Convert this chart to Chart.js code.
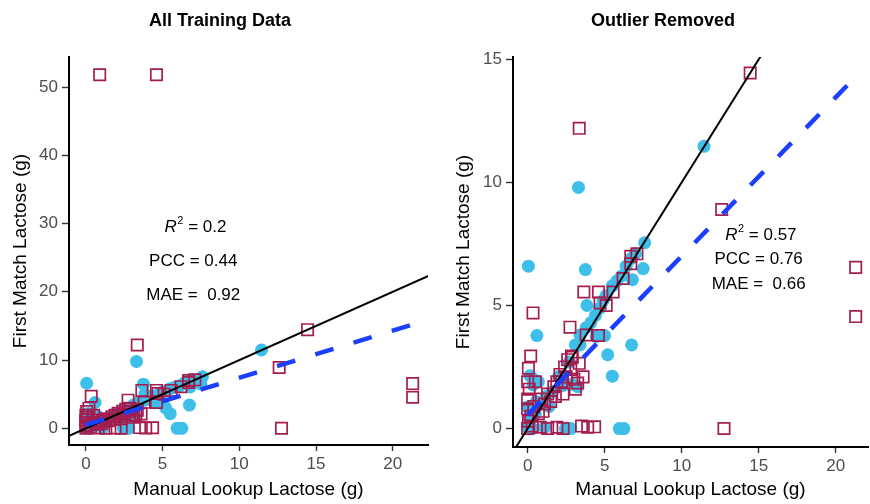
<!DOCTYPE html>
<html>
<head>
<meta charset="utf-8">
<script src="https://cdn.jsdelivr.net/npm/chart.js@4.4.1/dist/chart.umd.min.js"></script>
<style>
    body { margin: 0; background: #fff; overflow: hidden; }
    #wrap { position: relative; width: 870px; height: 504px; overflow: hidden; }
    canvas { position: absolute; top: 0; }
    #allChart { left: 0; }
    #trimChart { left: 435px; }
</style>
</head>
<body>
<div id="wrap">
    <canvas id="allChart" width="435" height="504"></canvas>
    <canvas id="trimChart" width="435" height="504"></canvas>
</div>
<script>
// values
const circleX = [0.05, 3.75, 7.6, 7.5, 6.8, 3.3, 11.45, 0.6, 6.75, 5.2, 5.5, 3.85, 5.0, 0.15, 0.4, 0.7, 0.0, 0.1, 0.0, 0.3,
    1.1, 2.45, 2.8, 5.95, 6.25, 3.4, 3.25, 2.3, 1.2, 0.8, 1.6, 2.0, 2.7, 3.1, 3.4, 3.8, 4.1, 4.4, 4.7, 5.1,
    5.5, 5.8, 6.1, 6.4, 6.7, 7.0, 4.9, 0.5, 1.4, 2.9, 4.45, 0.35, 0.56];
const circleY = [6.6, 6.46, 7.55, 6.5, 6.05, 9.8, 11.47, 3.78, 3.4, 3.0, 2.13, 5.0, 3.78, 2.15, 2.0, 1.9, 0.88, 0.4, 0.05, 0.0,
    0.05, 0.0, 0.0, 0.0, 0.0, 3.4, 1.7, 1.75, 1.3, 1.0, 1.5, 2.1, 2.7, 3.4, 3.8, 4.1, 4.3, 4.6, 4.9, 5.4,
    5.8, 6.0, 6.2, 6.6, 6.9, 7.1, 5.2, 0.6, 0.9, 1.8, 3.74, 1.77, 1.09];

const squareX = [3.35, 14.45, 12.6, 12.75, 21.3, 21.3, 6.7, 7.1, 6.7, 6.2, 3.65, 4.6, 5.55, 4.7, 5.1, 0.35, 2.75, 3.8, 4.6, 0.2,
    0.05, 0.0, 0.1, 0.0, 0.0, 0.05, 0.0, 0.3, 0.8, 1.3, 1.9, 2.3, 3.5, 3.9, 4.35, 0.5, 0.7, 0.9, 1.1, 1.3,
    1.5, 1.7, 1.9, 2.1, 2.3, 2.4, 2.6, 2.8, 2.9, 3.0, 2.2, 1.0, 0.4, 2.5, 3.1, 1.8, 0.2, 2.85, 3.35, 3.6, 3.25];
const squareY = [12.2, 14.45, 8.9, 0.0, 6.55, 4.55, 7.0, 7.1, 6.7, 6.1, 5.55, 5.55, 5.55, 5.1, 5.0, 4.7, 4.12, 3.8, 3.78, 2.95,
    2.45, 1.9, 1.6, 1.2, 0.8, 0.3, 0.0, 0.1, 0.05, 0.0, 0.05, 0.0, 0.1, 0.05, 0.07, 1.9, 0.6, 1.2, 1.0, 1.4,
    1.1, 1.7, 1.9, 2.2, 1.4, 2.5, 2.8, 2.4, 2.9, 2.0, 1.9, 0.7, 0.9, 2.1, 1.6, 1.3, 0.5, 2.95, 2.65, 2.1, 1.85];

// the two points dropped in the right panel
const outlierX = [0.9, 4.6];
const outlierY = [51.8, 51.8];

const identityX = [-2, 25];
const fitX = [0, 21.3];
const fitAllY = [0.5, 15.2];
const fitTrimY = [0.55, 14.3];

const xTicks = [0, 5, 10, 15, 20];
const yTicksAll = [0, 10, 20, 30, 40, 50];
const yTicksTrim = [0, 5, 10, 15];

const statNames = ['R2', 'PCC', 'MAE'];
const statSeps = [' = ', ' = ', ' =  '];
const statsAll = ['0.2', '0.44', '0.92'];
const statsTrim = ['0.57', '0.76', '0.66'];
const statYAll = [30, 25, 20];
const statYTrim = [8, 7, 6];

const FONT = '"Liberation Sans", Arial, Helvetica, sans-serif';
const CYAN = '#3dbfe9';
const CRIMSON = '#a51d4f';
const BLUE = '#1a3fff';

function pts(xs, ys) {
    return xs.map((x, i) => ({ x: x, y: ys[i] }));
}

const panelText = {
    id: 'panelText',
    afterDraw(chart, args, o) {
        const ctx = chart.ctx;
        const xs = chart.scales.x;
        const ys = chart.scales.y;
        ctx.save();
        ctx.fillStyle = '#000';
        ctx.textAlign = 'center';
        ctx.textBaseline = 'middle';
        ctx.font = `bold 18px ${FONT}`;
        ctx.fillText(o.title, o.titleX, 21);

        const cx = xs.getPixelForValue(o.statX);
        ctx.textBaseline = 'alphabetic';
        statNames.forEach((name, i) => {
            const base = ys.getPixelForValue(o.statY[i]) + 8;
            const rest = statSeps[i] + o.values[i];
            if (name === 'R2') {
                ctx.font = `italic 17px ${FONT}`;
                const wR = ctx.measureText('R').width;
                ctx.font = `11px ${FONT}`;
                const w2 = ctx.measureText('2').width;
                ctx.font = `17px ${FONT}`;
                const wRest = ctx.measureText(rest).width;
                let x = cx + 2 - (wR + w2 + wRest) / 2;
                ctx.textAlign = 'left';
                ctx.font = `italic 17px ${FONT}`;
                ctx.fillText('R', x, base);
                x += wR + 0.5;
                ctx.font = `11px ${FONT}`;
                ctx.fillText('2', x, base - 8);
                x += w2;
                ctx.font = `17px ${FONT}`;
                ctx.fillText(rest, x, base);
            } else {
                ctx.textAlign = 'center';
                ctx.font = `17px ${FONT}`;
                ctx.fillText(name + rest, cx, base);
            }
        });
        ctx.restore();
    }
};

function makePanel(id, cfg) {
    const datasets = [
        {
            label: 'fit',
            type: 'line',
            data: pts(fitX, cfg.fitY),
            borderColor: BLUE,
            borderWidth: 4.5,
            borderDash: [19, 21],
            borderCapStyle: 'butt',
            pointRadius: 0,
            fill: false,
            clip: 0,
            order: 0
        },
        {
            label: 'identity',
            type: 'line',
            data: pts(identityX, identityX),
            borderColor: '#000',
            borderWidth: 2,
            pointRadius: 0,
            fill: false,
            clip: 0,
            order: 1
        },
        {
            label: 'first match',
            data: pts(squareX, squareY).concat(cfg.extra),
            pointStyle: 'rect',
            pointRadius: 8,
            borderColor: CRIMSON,
            borderWidth: 1.7,
            backgroundColor: 'rgba(0,0,0,0)',
            order: 2
        },
        {
            label: 'manual',
            data: pts(circleX, circleY),
            pointStyle: 'circle',
            pointRadius: 6.5,
            borderWidth: 0,
            backgroundColor: CYAN,
            order: 3
        }
    ];

    const tickGrid = {
        display: true,
        drawOnChartArea: false,
        drawTicks: true,
        tickLength: 7,
        tickColor: '#333',
        tickWidth: 1.4
    };

    return new Chart(document.getElementById(id), {
        type: 'scatter',
        data: { datasets: datasets },
        options: {
            responsive: false,
            animation: false,
            events: [],
            layout: {
                autoPadding: false,
                padding: { top: 57, right: cfg.padRight, left: 0, bottom: 0 }
            },
            plugins: {
                legend: { display: false },
                tooltip: { enabled: false },
                title: { display: false },
                panelText: {
                    title: cfg.title,
                    titleX: cfg.titleX,
                    statX: cfg.statX,
                    statY: cfg.statY,
                    values: cfg.values
                }
            },
            scales: {
                x: {
                    type: 'linear',
                    min: cfg.xMin,
                    max: cfg.xMax,
                    afterBuildTicks: (s) => { s.ticks = xTicks.map((v) => ({ value: v })); },
                    afterFit: (s) => {
                        s.height = cfg.xAxisHeight;
                        s.paddingLeft = 0;
                        s.paddingRight = 0;
                    },
                    grid: Object.assign({}, tickGrid, { tickLength: 6 }),
                    border: { display: true, color: '#000', width: 2 },
                    ticks: {
                        color: '#4d4d4d',
                        font: { family: FONT, size: 17 },
                        padding: 3,
                        maxRotation: 0,
                        autoSkip: false
                    },
                    title: {
                        display: true,
                        text: 'Manual Lookup Lactose (g)',
                        color: '#000',
                        font: { family: FONT, size: 19 },
                        padding: { top: 0, bottom: 3 }
                    }
                },
                y: {
                    type: 'linear',
                    min: cfg.yMin,
                    max: cfg.yMax,
                    afterBuildTicks: (s) => { s.ticks = cfg.yTicks.map((v) => ({ value: v })); },
                    afterFit: (s) => {
                        s.width = cfg.yAxisWidth;
                        s.paddingTop = 0;
                        s.paddingBottom = 0;
                    },
                    grid: tickGrid,
                    border: { display: true, color: '#000', width: 2 },
                    ticks: {
                        color: '#4d4d4d',
                        font: { family: FONT, size: 17 },
                        padding: 4,
                        autoSkip: false
                    },
                    title: {
                        display: true,
                        text: 'First Match Lactose (g)',
                        color: '#000',
                        font: { family: FONT, size: 19 },
                        padding: { top: cfg.yTitlePad, bottom: 0 }
                    }
                }
            }
        },
        plugins: [panelText]
    });
}

makePanel('allChart', {
    title: 'All Training Data',
    titleX: 220,
    xMin: -1.1, xMax: 22.3,
    yMin: -2.45, yMax: 54.4,
    yTicks: yTicksAll,
    fitY: fitAllY,
    extra: pts(outlierX, outlierY),
    statX: 7, statY: statYAll, values: statsAll,
    yAxisWidth: 69, xAxisHeight: 59, padRight: 7, yTitlePad: 9
});

makePanel('trimChart', {
    title: 'Outlier Removed',
    titleX: 228,
    xMin: -0.95, xMax: 22.1,
    yMin: -0.75, yMax: 15.1,
    yTicks: yTicksTrim,
    fitY: fitTrimY,
    extra: [],
    statX: 15, statY: statYTrim, values: statsTrim,
    yAxisWidth: 78, xAxisHeight: 57, padRight: 2, yTitlePad: 17
});
</script>
</body>
</html>
